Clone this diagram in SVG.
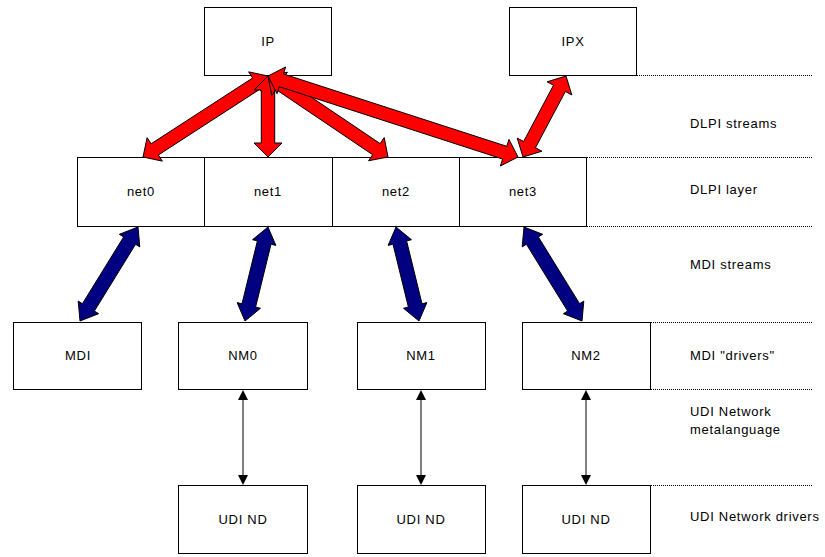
<svg xmlns="http://www.w3.org/2000/svg" width="825" height="557" viewBox="0 0 825 557">
<defs>
<style>
.box{fill:#fff;stroke:#000;stroke-width:1}
.t{font-family:"Liberation Sans",Arial,sans-serif;font-size:13px;letter-spacing:0.7px;fill:#000}
.c{text-anchor:middle}
.dot{stroke:#000;stroke-width:1;stroke-dasharray:1 1;fill:none}
.red{fill:#ff0000;stroke:#000;stroke-width:1;stroke-linejoin:miter}
.blue{fill:#000080;stroke:#000;stroke-width:1}
.thin{stroke:#000;stroke-width:1;fill:none}
.hd{fill:#000}
</style>
</defs>
<rect width="825" height="557" fill="#fff"/>
<g id="guides">
<line class="dot" x1="637" y1="75.5" x2="812" y2="75.5"/>
<line class="dot" x1="587" y1="157.5" x2="812" y2="157.5"/>
<line class="dot" x1="587" y1="226.5" x2="812" y2="226.5"/>
<line class="dot" x1="651" y1="322.5" x2="812" y2="322.5"/>
<line class="dot" x1="651" y1="389.5" x2="812" y2="389.5"/>
<line class="dot" x1="651" y1="485.5" x2="812" y2="485.5"/>
</g>
<g id="layer-labels">
<text class="t" x="690" y="128">DLPI streams</text>
<text class="t" x="690" y="194">DLPI layer</text>
<text class="t" x="690" y="269">MDI streams</text>
<text class="t" x="690" y="360">MDI "drivers"</text>
<text class="t" x="690" y="416">UDI Network</text>
<text class="t" x="690" y="434">metalanguage</text>
<text class="t" x="690" y="521">UDI Network drivers</text>
</g>
<g id="IP"><rect class="box" x="204.5" y="7.5" width="127" height="68"/><text class="t c" x="268" y="46">IP</text></g>
<g id="IPX"><rect class="box" x="509.5" y="7.5" width="127" height="68"/><text class="t c" x="573" y="46">IPX</text></g>
<g id="net0"><rect class="box" x="77.5" y="157.5" width="127" height="69"/><text class="t c" x="141" y="196">net0</text></g>
<g id="net1"><rect class="box" x="204.5" y="157.5" width="128" height="69"/><text class="t c" x="268" y="196">net1</text></g>
<g id="net2"><rect class="box" x="332.5" y="157.5" width="127" height="69"/><text class="t c" x="396" y="196">net2</text></g>
<g id="net3"><rect class="box" x="459.5" y="157.5" width="127" height="69"/><text class="t c" x="523" y="196">net3</text></g>
<g id="MDI"><rect class="box" x="13.5" y="322.5" width="128" height="67"/><text class="t c" x="78" y="360">MDI</text></g>
<g id="NM0"><rect class="box" x="178.5" y="322.5" width="129" height="67"/><text class="t c" x="243" y="360">NM0</text></g>
<g id="NM1"><rect class="box" x="357.5" y="322.5" width="128" height="67"/><text class="t c" x="421" y="360">NM1</text></g>
<g id="NM2"><rect class="box" x="522.5" y="322.5" width="128" height="67"/><text class="t c" x="586" y="360">NM2</text></g>
<g id="UDIND0"><rect class="box" x="178.5" y="485.5" width="129" height="68"/><text class="t c" x="243" y="524">UDI ND</text></g>
<g id="UDIND1"><rect class="box" x="357.5" y="485.5" width="128" height="68"/><text class="t c" x="421" y="524">UDI ND</text></g>
<g id="UDIND2"><rect class="box" x="522.5" y="485.5" width="128" height="68"/><text class="t c" x="586" y="524">UDI ND</text></g>
<g id="connectors">
<polygon class="red" points="268,76 248.64,71.86 252.61,77.99 151.11,143.77 147.14,137.64 143,157 162.36,161.14 158.39,155.01 259.89,89.23 263.86,95.36"/>
<polygon class="red" points="268,76 254,90 261.3,90 261.3,143 254,143 268,157 282,143 274.7,143 274.7,90 282,90"/>
<polygon class="red" points="268,76 271.77,95.43 275.85,89.38 372.65,154.72 368.57,160.77 388,157 384.23,137.57 380.15,143.62 283.35,78.28 287.43,72.23"/>
<polygon class="red" points="268,76 277.01,93.63 279.26,86.68 502.62,159.06 500.37,166.01 518,157 508.99,139.37 506.74,146.32 283.38,73.94 285.63,66.99"/>
<polygon class="red" points="566,76 547.08,81.80 553.52,85.22 523.64,141.50 517.20,138.08 523,157 541.92,151.20 535.48,147.78 565.36,91.50 571.80,94.92"/>
<polygon class="blue" points="138,227 119.39,234.32 123.64,236.94 82.44,303.70 78.19,301.08 80,321 98.61,313.68 94.36,311.06 135.56,244.30 139.81,246.92"/>
<polygon class="blue" points="268,227 252.54,239.69 257.40,240.88 242.00,303.80 237.14,302.61 245,321 260.46,308.31 255.60,307.12 271.00,244.20 275.86,245.39"/>
<polygon class="blue" points="396,227 388.14,245.39 393.00,244.20 408.40,307.12 403.54,308.31 419,321 426.86,302.61 422.00,303.80 406.60,240.88 411.46,239.69"/>
<polygon class="blue" points="524,227 522.19,246.92 526.44,244.30 567.64,311.06 563.39,313.68 582,321 583.81,301.08 579.56,303.70 538.36,236.94 542.61,234.32"/>
<line class="thin" x1="243" y1="398" x2="243" y2="477"/>
<polygon class="hd" points="243,390 238,400 248,400"/>
<polygon class="hd" points="243,485 238,475 248,475"/>
<line class="thin" x1="421" y1="398" x2="421" y2="477"/>
<polygon class="hd" points="421,390 416,400 426,400"/>
<polygon class="hd" points="421,485 416,475 426,475"/>
<line class="thin" x1="586" y1="398" x2="586" y2="477"/>
<polygon class="hd" points="586,390 581,400 591,400"/>
<polygon class="hd" points="586,485 581,475 591,475"/>
</g>
</svg>
